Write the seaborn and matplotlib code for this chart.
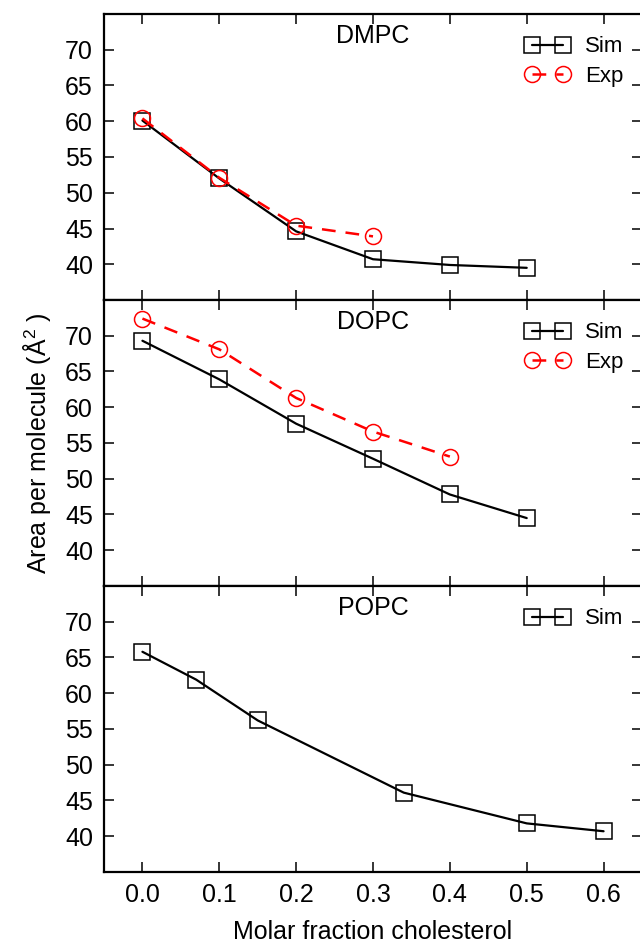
import numpy as np
import pandas as pd
import matplotlib
matplotlib.use("Agg")
import matplotlib.pyplot as plt
import seaborn as sns

# DMPC
dmpc_sim_x = [0.0, 0.1, 0.2, 0.3, 0.4, 0.5]
dmpc_sim_y = [60.1, 52.0, 44.6, 40.7, 39.9, 39.5]
dmpc_exp_x = [0.0, 0.1, 0.2, 0.3]
dmpc_exp_y = [60.4, 52.1, 45.4, 43.9]

# DOPC
dopc_sim_x = [0.0, 0.1, 0.2, 0.3, 0.4, 0.5]
dopc_sim_y = [69.3, 63.9, 57.7, 52.8, 47.8, 44.5]
dopc_exp_x = [0.0, 0.1, 0.2, 0.3, 0.4]
dopc_exp_y = [72.4, 68.1, 61.3, 56.6, 53.1]

# POPC
popc_sim_x = [0.0, 0.07, 0.15, 0.34, 0.5, 0.6]
popc_sim_y = [65.8, 61.9, 56.2, 46.1, 41.8, 40.7]

panel_names = ["DMPC", "DOPC", "POPC"]
x_ticks = [0.0, 0.1, 0.2, 0.3, 0.4, 0.5, 0.6]
x_tick_labels = ["0.0", "0.1", "0.2", "0.3", "0.4", "0.5", "0.6"]
y_ticks = [40, 45, 50, 55, 60, 65, 70]

sns.set_style("ticks")
plt.rcParams["font.family"] = ["Liberation Sans", "DejaVu Sans"]
plt.rcParams["mathtext.fontset"] = "custom"
plt.rcParams["mathtext.rm"] = "Liberation Sans"
plt.rcParams["text.color"] = "black"
plt.rcParams["axes.labelcolor"] = "black"

fig = plt.figure(figsize=(6.4, 9.43), dpi=100)
W, H = 640.0, 943.0
left, right = 104, 642
tops = [14, 300, 586]
ph = 286

axes = []
for t in tops:
    ax = fig.add_axes([left / W, 1 - (t + ph) / H, (right - left) / W, ph / H])
    axes.append(ax)

sim_kw = dict(color="black", marker="s", markersize=11, markerfacecolor="none",
              markeredgecolor="black", markeredgewidth=1.1, linewidth=1.6, label="Sim")
exp_kw = dict(color="red", marker="o", markersize=11.5, markerfacecolor="none",
              markeredgecolor="red", markeredgewidth=1.1, linewidth=1.8,
              dashes=(5.5, 4), label="Exp")

sns.lineplot(x=dmpc_sim_x, y=dmpc_sim_y, ax=axes[0], **sim_kw)
sns.lineplot(x=dmpc_exp_x, y=dmpc_exp_y, ax=axes[0], **exp_kw)
sns.lineplot(x=dopc_sim_x, y=dopc_sim_y, ax=axes[1], **sim_kw)
sns.lineplot(x=dopc_exp_x, y=dopc_exp_y, ax=axes[1], **exp_kw)
sns.lineplot(x=popc_sim_x, y=popc_sim_y, ax=axes[2], **sim_kw)

for i, ax in enumerate(axes):
    ax.set_xlim(-0.05, 0.65)
    ax.set_ylim(35, 75)
    ax.set_xticks(x_ticks)
    ax.set_yticks(y_ticks)
    ax.tick_params(direction="in", top=True, right=True, length=7.5, width=1.1,
                   labelsize=18, pad=8, colors="black")
    for s in ax.spines.values():
        s.set_linewidth(1.6)
        s.set_color("black")
    if i < 2:
        ax.set_xticklabels([])
    else:
        ax.set_xticklabels(x_tick_labels)
    ax.text(0.5, 0.922, panel_names[i], transform=ax.transAxes,
            ha="center", va="center", fontsize=18)
    ax.legend(loc="upper right", bbox_to_anchor=(0.982, 0.953), frameon=False,
              numpoints=2, handlelength=2.0, handletextpad=0.7, fontsize=16,
              borderaxespad=0, labelspacing=0.4)

axes[2].set_xlabel("Molar fraction cholesterol", fontsize=18, labelpad=9)
fig.text(37 / W, 1 - 443 / H, "Area per molecule (Å$^{2}$ )", rotation=90,
         ha="center", va="center", fontsize=18)

fig.savefig("out.png", dpi=100, facecolor="white")
